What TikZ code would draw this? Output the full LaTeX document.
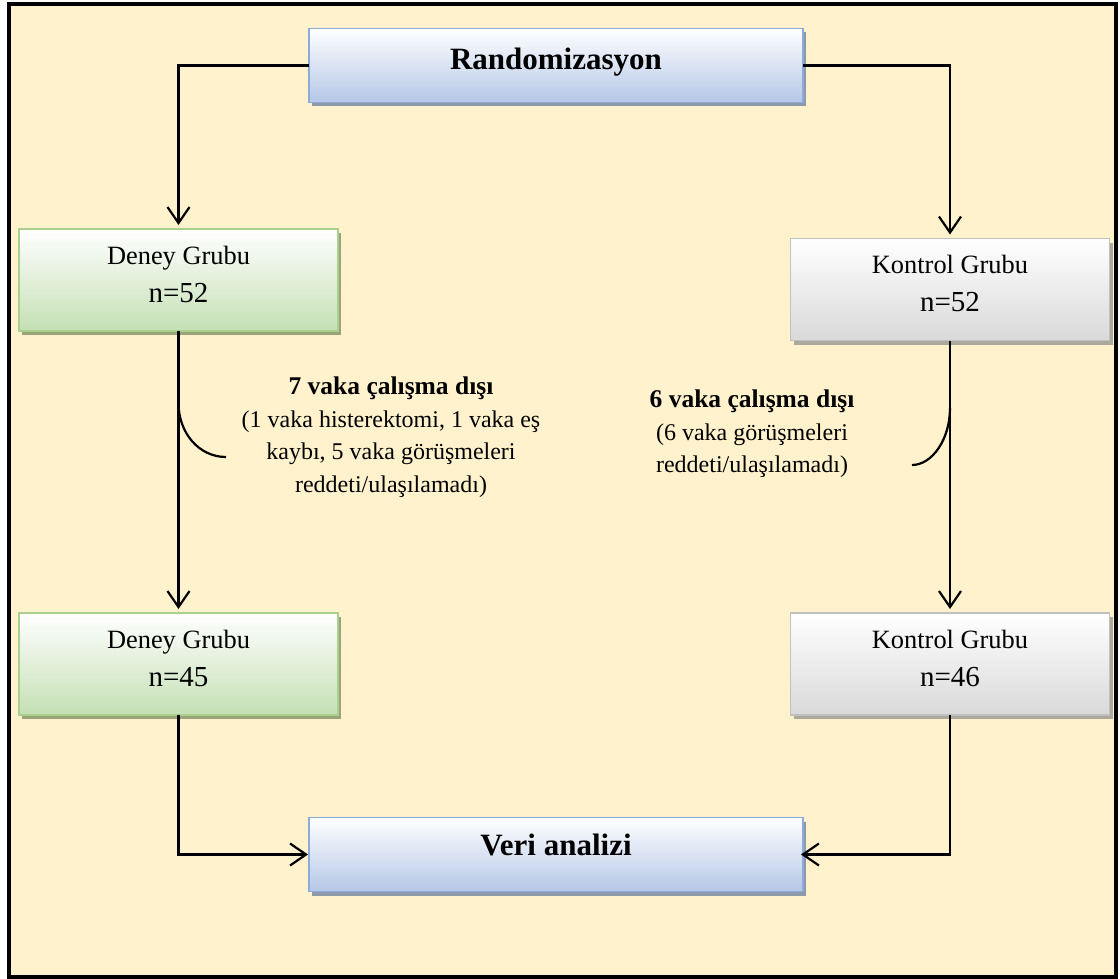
\documentclass[tikz,border=0pt]{standalone}
\usepackage{fontspec}
\setmainfont{Liberation Serif}
\usetikzlibrary{arrows.meta,shadows}
\definecolor{cream}{HTML}{FFF2CC}
\definecolor{blueedge}{HTML}{8EAADB}
\definecolor{bluefill}{HTML}{B4C7E7}
\definecolor{blueshadow}{HTML}{8E9AAA}
\definecolor{greenedge}{HTML}{A9D18E}
\definecolor{greenfill}{HTML}{C5E0B4}
\definecolor{greenshadow}{HTML}{9EA47A}
\definecolor{grayedge}{HTML}{C0C0C0}
\definecolor{grayfill}{HTML}{D9D9D9}
\definecolor{grayshadow}{HTML}{ABA89C}
\tikzset{
  boxbase/.style={rectangle, inner sep=0pt, outer sep=0pt, line width=1.8pt, align=center},
  bluebox/.style={boxbase, draw=blueedge, top color=white, bottom color=bluefill,
    drop shadow={shadow xshift=3pt, shadow yshift=-4pt, fill=blueshadow, opacity=1},
    font=\fontsize{31}{36}\selectfont\bfseries, minimum width=494pt, minimum height=74pt,
    text height=21pt},
  grpbox/.style={boxbase, minimum width=319pt, minimum height=102pt,
    font=\fontsize{26.4}{38}\selectfont, text depth=12pt},
  greenbox/.style={grpbox, draw=greenedge, top color=white, bottom color=greenfill,
    drop shadow={shadow xshift=3pt, shadow yshift=-4pt, fill=greenshadow, opacity=1}},
  graybox/.style={grpbox, draw=grayedge, top color=white, bottom color=grayfill,
    drop shadow={shadow xshift=3pt, shadow yshift=-4pt, fill=grayshadow, opacity=1}},
  conn/.style={line width=2.2pt},
  arr/.style={conn, -{Straight Barb[length=16pt,width=22pt]}},
  note/.style={align=center, font=\fontsize{24}{32.5}\selectfont}
}
\begin{document}
\begin{tikzpicture}[x=1pt,y=-1pt]
\useasboundingbox (0,0) rectangle (1120,979);
\fill[white] (0,0) rectangle (1120,979);
\draw[line width=3.8pt, fill=cream] (8.7,4.4) rectangle (1116,977);

\node[bluebox, text depth=12pt] (rand) at (556,65.5) {Randomizasyon};
\node[greenbox] (d1) at (178.5,280) {Deney Grubu\\{\fontsize{29}{38}\selectfont n=52}};
\node[graybox] (k1) at (950,289.5) {Kontrol Grubu\\{\fontsize{29}{38}\selectfont n=52}};
\node[greenbox] (d2) at (178.5,664) {Deney Grubu\\{\fontsize{29}{38}\selectfont n=45}};
\node[graybox] (k2) at (950,664) {Kontrol Grubu\\{\fontsize{29}{38}\selectfont n=46}};
\node[bluebox, text depth=20pt] (veri) at (556,854.5) {Veri analizi};

\draw[arr, shorten >=4pt] (rand.west) -| (d1.north);
\draw[arr, shorten >=4pt] (rand.east) -| (k1.north);
\draw[arr, shorten >=4pt] (d1.south) -- (d2.north);
\draw[arr, shorten >=4pt] (k1.south) -- (k2.north);
\draw[arr, shorten >=1pt] (d2.south) |- (veri.west);
\draw[arr, shorten >=-2pt] (k2.south) |- (veri.east);

\node[note] (n1) at (391,437) {{\fontsize{25.5}{32.5}\selectfont\bfseries 7 vaka çalışma dışı}\\(1 vaka histerektomi, 1 vaka eş\\kaybı, 5 vaka görüşmeleri\\reddeti/ulaşılamadı)};
\node[note] (n2) at (752,434) {{\fontsize{25.5}{32.5}\selectfont\bfseries 6 vaka çalışma dışı}\\(6 vaka görüşmeleri\\reddeti/ulaşılamadı)};

\coordinate (c1s) at (178.5,403);
\coordinate (c1e) at (226,457);
\coordinate (c2s) at (950,408);
\coordinate (c2e) at (912,465);
\draw[conn] (c1s) .. controls (178.5,433) and (199,457) .. (c1e);
\draw[conn] (c2s) .. controls (950,439.5) and (932,465) .. (c2e);
\end{tikzpicture}
\end{document}
